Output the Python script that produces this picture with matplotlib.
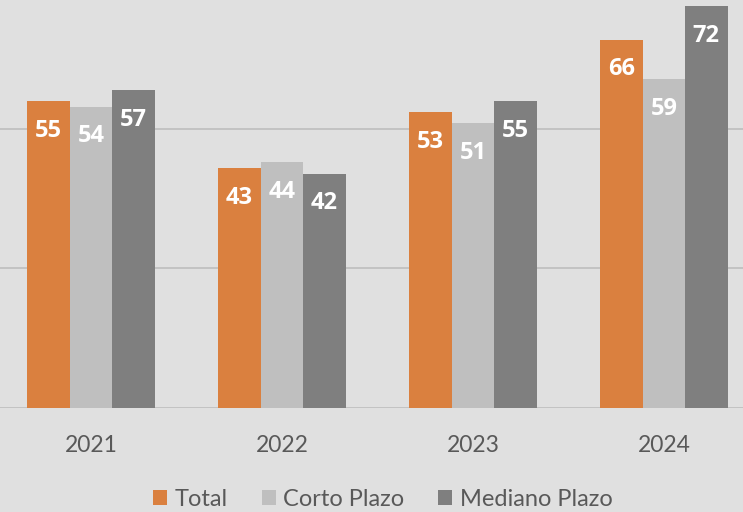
import matplotlib
matplotlib.use("Agg")
import matplotlib.pyplot as plt
import numpy as np

plt.rcParams['font.family'] = ['Lato', 'DejaVu Sans']

anios = ["2021", "2022", "2023", "2024"]
series = ["Total", "Corto Plazo", "Mediano Plazo"]
total = [55, 43, 53, 66]
corto = [54, 44, 51, 59]
mediano = [57, 42, 55, 72]
colores = ["#DA803F", "#BFBFBF", "#7F7F7F"]
fondo = "#E0E0E0"

fig = plt.figure(figsize=(7.43, 5.12), dpi=100, facecolor=fondo)
ax = fig.add_axes([0, 104/512, 1, 408/512])
ax.set_facecolor(fondo)

x = np.arange(len(anios))
w = 0.222
for i, (vals, nombre, c) in enumerate(zip([total, corto, mediano], series, colores)):
    barras = ax.bar(x + (i - 1) * w, vals, w, color=c, label=nombre, zorder=3)
    for b, v in zip(barras, vals):
        ax.annotate(str(v), (b.get_x() + b.get_width() / 2, v), xytext=(0, -21.5),
                    textcoords="offset points", ha="center", va="center",
                    color="white", fontsize=17, fontweight="bold",
                    family=["Open Sans", "DejaVu Sans"], zorder=4)

ax.set_xlim(-0.476, 3.414)
ax.set_ylim(0, 73.1)
ax.set_yticks([0, 25, 50])
ax.yaxis.grid(True, color="#C0C0C0", linewidth=1.3, zorder=0)
ax.tick_params(axis="y", left=False, labelleft=False)
ax.tick_params(axis="x", bottom=False, pad=16, labelsize=16.5, labelcolor="#595959")
ax.set_xticks(x)
ax.set_xticklabels(anios)
for s in ax.spines.values():
    s.set_visible(False)

fig.legend(loc="lower center", bbox_to_anchor=(0.515, -0.038), ncol=3, frameon=False,
           fontsize=17, labelcolor="#595959", handlelength=0.6, handleheight=0.6,
           handletextpad=0.3, columnspacing=1.45)

fig.savefig("out.png", dpi=100, facecolor=fondo)
